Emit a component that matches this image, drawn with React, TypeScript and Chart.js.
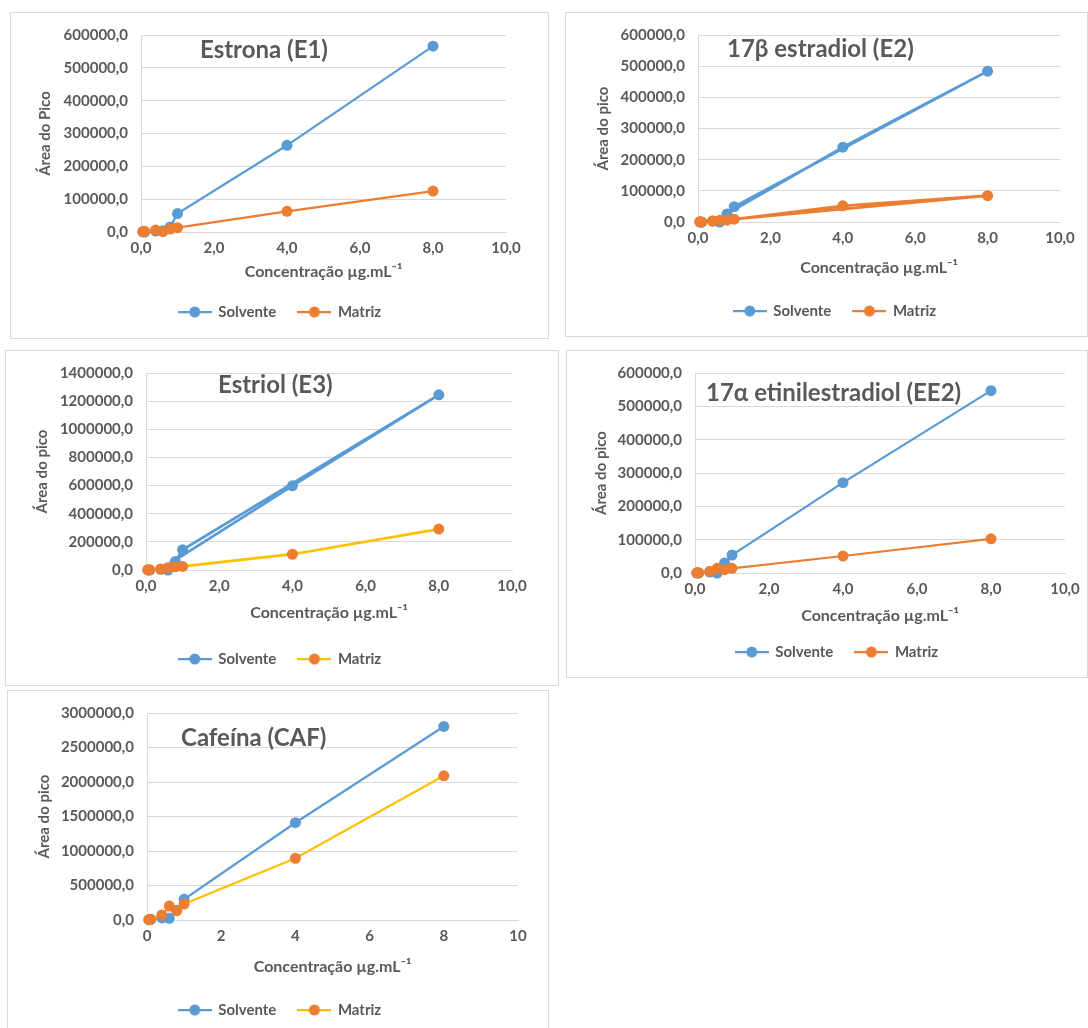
import React, { useEffect, useRef } from "react";
import { Chart, registerables } from "chart.js";

Chart.register(...registerables);

const FONT = "Lato, 'Open Sans', 'DejaVu Sans', sans-serif";
const TEXT = "#595959";
const GRID = "#d9d9d9";
const BORDER = "#d9d9d9";
const BLUE = "#5b9bd5";
const ORANGE = "#ed7d31";
const YELLOW = "#ffc000";

// ---- data ----
const seriesLabels = ["Solvente", "Matriz"];
const concentrations = [0.05, 0.1, 0.4, 0.6, 0.8, 1.0, 4.0, 8.0];
const xTicks = [0, 2, 4, 6, 8, 10];

const e1Solvente = [500, 0, 3000, 4000, 15000, 56000, 264000, 566000];
const e1Matriz = [1000, 2000, 6000, 1000, 9000, 13000, 63000, 124500];
const e1YTicks = [0, 100000, 200000, 300000, 400000, 500000, 600000];

const e2Solvente = [0, 0, 3000, 0, 26000, 49000, 240000, 484000];
const e2Matriz = [1000, 0, 3000, 6000, 6000, 9000, 52000, 84500];
const e2YTicks = [0, 100000, 200000, 300000, 400000, 500000, 600000];

const e3Solvente = [0, 0, 5000, 0, 60000, 144000, 598000, 1245000];
const e3Matriz = [1000, 2000, 7000, 16000, 23000, 25600, 112000, 291000];
const e3YTicks = [0, 200000, 400000, 600000, 800000, 1000000, 1200000, 1400000];

const ee2Solvente = [0, 0, 3000, 0, 30000, 54000, 271000, 547000];
const ee2Matriz = [500, 1000, 5000, 14000, 10000, 14000, 51000, 102500];
const ee2YTicks = [0, 100000, 200000, 300000, 400000, 500000, 600000];

const cafSolvente = [3000, 8000, 30000, 25000, 140000, 300000, 1410000, 2805000];
const cafMatriz = [5000, 10000, 72000, 202000, 135000, 231000, 895000, 2090000];
const cafYTicks = [0, 500000, 1000000, 1500000, 2000000, 2500000, 3000000];

// order in which the points of each series are joined
const sortedOrder = [0, 1, 2, 3, 4, 5, 6, 7];
const e2Order = [0, 1, 2, 3, 4, 6, 7, 5];
const e3SolventeOrder = [0, 1, 2, 6, 7, 5, 4, 3];

type PanelCfg = {
  title: string;
  yLabel: string;
  yTicks: number[];
  xDecimals: number;
  solvente: number[];
  matriz: number[];
  solventeOrder: number[];
  matrizOrder: number[];
  matrizLine: string;
  lineWidth: number;
  box: { left: number; top: number; width: number; height: number };
  plot: { x0: number; x10: number; yTop: number; y0: number };
  yTitleX: number;
  xTitleY: number;
  legendY: number;
  legendX: number;
  titleX: number;
  titleY: number;
};

const panels: PanelCfg[] = [
  {
    title: "Estrona (E1)", yLabel: "Área do Pico", yTicks: e1YTicks, xDecimals: 1,
    solvente: e1Solvente, matriz: e1Matriz, solventeOrder: sortedOrder, matrizOrder: sortedOrder, matrizLine: ORANGE, lineWidth: 2.25,
    box: { left: 10, top: 12, width: 539, height: 327 },
    plot: { x0: 141, x10: 506, yTop: 35, y0: 232 },
    yTitleX: 45, xTitleY: 272, legendY: 312, legendX: 280, titleX: 200, titleY: 50,
  },
  {
    title: "17β estradiol (E2)", yLabel: "Área do pico", yTicks: e2YTicks, xDecimals: 1,
    solvente: e2Solvente, matriz: e2Matriz, solventeOrder: e2Order, matrizOrder: e2Order, matrizLine: ORANGE, lineWidth: 2.75,
    box: { left: 565, top: 12, width: 523, height: 325 },
    plot: { x0: 698, x10: 1060, yTop: 26, y0: 222 },
    yTitleX: 603, xTitleY: 268, legendY: 311, legendX: 835, titleX: 727, titleY: 49,
  },
  {
    title: "Estriol (E3)", yLabel: "Área do pico", yTicks: e3YTicks, xDecimals: 1,
    solvente: e3Solvente, matriz: e3Matriz, solventeOrder: e3SolventeOrder, matrizOrder: sortedOrder, matrizLine: YELLOW, lineWidth: 2.75,
    box: { left: 5, top: 350, width: 554, height: 336 },
    plot: { x0: 146, x10: 512, yTop: 368, y0: 570 },
    yTitleX: 42, xTitleY: 613, legendY: 659, legendX: 280, titleX: 218, titleY: 385,
  },
  {
    title: "17α etinilestradiol (EE2)", yLabel: "Área do pico", yTicks: ee2YTicks, xDecimals: 1,
    solvente: ee2Solvente, matriz: ee2Matriz, solventeOrder: sortedOrder, matrizOrder: sortedOrder, matrizLine: ORANGE, lineWidth: 2.25,
    box: { left: 566, top: 350, width: 522, height: 328 },
    plot: { x0: 695, x10: 1065, yTop: 372, y0: 573 },
    yTitleX: 601, xTitleY: 616, legendY: 652, legendX: 837, titleX: 706, titleY: 393,
  },
  {
    title: "Cafeína (CAF)", yLabel: "Área do pico", yTicks: cafYTicks, xDecimals: 0,
    solvente: cafSolvente, matriz: cafMatriz, solventeOrder: sortedOrder, matrizOrder: sortedOrder, matrizLine: YELLOW, lineWidth: 2.25,
    box: { left: 7, top: 690, width: 542, height: 350 },
    plot: { x0: 147, x10: 518, yTop: 712, y0: 920 },
    yTitleX: 44, xTitleY: 967, legendY: 1010, legendX: 280, titleX: 181, titleY: 738,
  },
];

function makeIcon(line: string, marker: string): HTMLCanvasElement {
  const c = document.createElement("canvas");
  c.width = 34;
  c.height = 12;
  const g = c.getContext("2d")!;
  g.strokeStyle = line;
  g.lineWidth = 2.25;
  g.beginPath();
  g.moveTo(0, 6);
  g.lineTo(34, 6);
  g.stroke();
  g.fillStyle = marker;
  g.beginPath();
  g.arc(17, 6, 5.5, 0, Math.PI * 2);
  g.fill();
  return c;
}

function fmt(v: number, d: number) {
  return Number(v).toFixed(d).replace(".", ",");
}

function Panel({ cfg }: { cfg: PanelCfg }) {
  const ref = useRef<HTMLCanvasElement | null>(null);
  const W = cfg.box.width - 2;
  const H = cfg.box.height - 2;

  useEffect(() => {
    if (!ref.current) return;
    const ox = cfg.box.left + 1;
    const oy = cfg.box.top + 1;
    const cL = cfg.plot.x0 - ox;
    const cR = cfg.plot.x10 - ox;
    const cT = cfg.plot.yTop - oy;
    const cB = cfg.plot.y0 - oy;

    const yTitleSize = 15;
    const yTitleLH = yTitleSize * 1.2;
    const xTitleSize = 16;
    const xTitleLH = xTitleSize * 1.2;
    const padL = cfg.yTitleX - ox - yTitleLH / 2;
    const yAxisW = cL - padL;
    const padR = W - cR;

    const legFont = 15;
    const legPad = 22;
    const itemH = legFont;
    const legTop = cfg.legendY - oy - legPad - itemH / 2;
    const legH = itemH + legPad + 10;
    const padB = H - legTop - legH;
    const xAxisH = legTop - cB;
    const xTitlePadBottom = legTop - (cfg.xTitleY - oy) - xTitleLH / 2;

    const icons = [makeIcon(BLUE, BLUE), makeIcon(cfg.matrizLine, ORANGE)];

    const tickFont = { family: FONT, size: 15, weight: "bold" as const };

    const chart = new Chart(ref.current, {
      type: "scatter",
      data: {
        datasets: [
          {
            label: seriesLabels[0],
            data: cfg.solventeOrder.map((i) => ({ x: concentrations[i], y: cfg.solvente[i] })),
            showLine: true,
            borderColor: BLUE,
            backgroundColor: BLUE,
            pointBackgroundColor: BLUE,
            pointBorderColor: BLUE,
            pointRadius: 5.5,
            pointBorderWidth: 0,
            borderWidth: cfg.lineWidth,
            clip: false,
            order: 1,
          } as any,
          {
            label: seriesLabels[1],
            data: cfg.matrizOrder.map((i) => ({ x: concentrations[i], y: cfg.matriz[i] })),
            showLine: true,
            borderColor: cfg.matrizLine,
            backgroundColor: ORANGE,
            pointBackgroundColor: ORANGE,
            pointBorderColor: ORANGE,
            pointRadius: 5.5,
            pointBorderWidth: 0,
            borderWidth: cfg.lineWidth,
            clip: false,
            order: 0,
          } as any,
        ],
      },
      options: {
        animation: false,
        responsive: false,
        maintainAspectRatio: false,
        layout: { padding: { left: padL, right: padR, top: cT, bottom: padB } },
        scales: {
          x: {
            type: "linear",
            min: xTicks[0],
            max: xTicks[xTicks.length - 1],
            afterBuildTicks: (s: any) => {
              s.ticks = xTicks.map((v) => ({ value: v }));
            },
            afterFit: (s: any) => {
              s.height = xAxisH;
            },
            grid: { display: false, drawTicks: false },
            border: { display: true, color: GRID, width: 1 },
            ticks: {
              padding: 7,
              color: TEXT,
              font: tickFont,
              maxRotation: 0,
              autoSkip: false,
              callback: (v: any) => fmt(v, cfg.xDecimals),
            },
            title: {
              display: true,
              text: "Concentração µg.mL⁻¹",
              color: TEXT,
              font: { family: FONT, size: xTitleSize, weight: "bold" },
              padding: { top: 0, bottom: xTitlePadBottom },
            },
          },
          y: {
            type: "linear",
            min: cfg.yTicks[0],
            max: cfg.yTicks[cfg.yTicks.length - 1],
            afterBuildTicks: (s: any) => {
              s.ticks = cfg.yTicks.map((v) => ({ value: v }));
            },
            afterFit: (s: any) => {
              s.width = yAxisW;
            },
            grid: { display: true, color: GRID, lineWidth: 1, drawTicks: false },
            border: { display: true, color: GRID, width: 1 },
            ticks: {
              padding: 13,
              color: TEXT,
              font: tickFont,
              autoSkip: false,
              callback: (v: any) => fmt(v, 1),
            },
            title: {
              display: true,
              text: cfg.yLabel,
              color: TEXT,
              font: { family: FONT, size: yTitleSize, weight: "bold" },
              padding: { top: 0, bottom: 0 },
            },
          },
        },
        plugins: {
          tooltip: { enabled: false },
          legend: {
            display: true,
            position: "bottom",
            labels: {
              usePointStyle: true,
              pointStyleWidth: 32,
              padding: legPad,
              color: TEXT,
              font: { family: FONT, size: legFont, weight: "bold" },
              generateLabels: (ch: any) => {
                const items = (Chart.defaults.plugins.legend.labels as any).generateLabels(ch);
                items.sort((a: any, b: any) => a.datasetIndex - b.datasetIndex);
                return items.map((it: any) => ({ ...it, pointStyle: icons[it.datasetIndex] }));
              },
            },
          },
        },
      },
      plugins: [
        {
          id: "legendShift",
          afterLayout(ch: any) {
            const lg = ch.legend;
            if (!lg) return;
            const cur = (lg.left + lg.right) / 2;
            const dx = cfg.legendX - ox - cur;
            lg.left += dx;
            lg.right += dx;
          },
        },
        {
          id: "innerTitle",
          afterDraw(ch: any) {
            const ctx = ch.ctx;
            ctx.save();
            ctx.font = `bold 24px ${FONT}`;
            ctx.fillStyle = TEXT;
            ctx.textAlign = "left";
            ctx.textBaseline = "middle";
            ctx.fillText(cfg.title, cfg.titleX - ox, cfg.titleY - oy);
            ctx.restore();
          },
        },
      ],
    });
    return () => chart.destroy();
  }, []);

  return (
    <div
      style={{
        position: "absolute",
        left: cfg.box.left,
        top: cfg.box.top,
        width: W,
        height: H,
        border: `1px solid ${BORDER}`,
        background: "#fff",
      }}
    >
      <canvas ref={ref} width={W} height={H} style={{ display: "block", width: W, height: H }} />
    </div>
  );
}

export default function App() {
  return (
    <div
      style={{
        position: "fixed",
        left: 0,
        top: 0,
        width: 1088,
        height: 1028,
        overflow: "hidden",
        background: "#fff",
      }}
    >
      {panels.map((p, i) => (
        <Panel key={i} cfg={p} />
      ))}
    </div>
  );
}
